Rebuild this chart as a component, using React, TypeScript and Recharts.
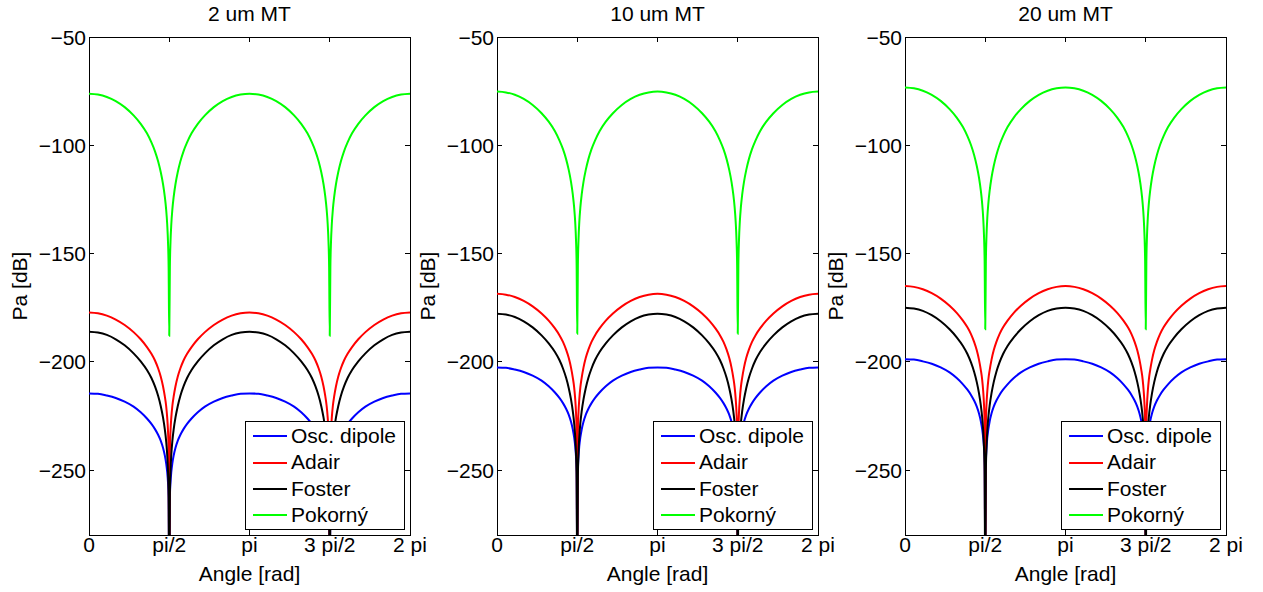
import React from 'react';
import { LineChart, Line, XAxis, YAxis, ReferenceArea, Legend } from 'recharts';

// ---- data (angle in degrees, values in dB) ----
const ANGLES = [0, 10, 20, 30, 40, 50, 58, 65, 70, 74, 77.5, 80.5, 83, 85, 86.5, 87.7, 88.6, 89.3, 90,
  90.7, 91.4, 92.3, 93.5, 95, 97, 99.5, 102.5, 106, 110, 115, 122, 130, 140, 150, 160, 170, 180,
  190, 200, 210, 220, 230, 238, 245, 250, 254, 257.5, 260.5, 263, 265, 266.5, 267.7, 268.6, 269.3, 270,
  270.7, 271.4, 272.3, 273.5, 275, 277, 279.5, 282.5, 286, 290, 295, 302, 310, 320, 330, 340, 350, 360];

const X_TICKS = [0, 90, 180, 270, 360];
const X_TICK_LABELS = ['0', 'pi/2', 'pi', '3 pi/2', '2 pi'];
const Y_TICKS = [-250, -200, -150, -100, -50];
const PANEL_TITLES = ['2 um MT', '10 um MT', '20 um MT'];

// Panel 1 (2 um MT)
const OSC_2UM = [-214.6, -214.8, -215.6, -216.7, -218.4, -220.7, -223.3, -226.2, -228.7, -231.1, -233.7, -236.5, -239.7, -243.2, -246.8, -250.9, -255.7, -262.4, -305,
  -262.4, -255.7, -250.9, -246.8, -243.2, -239.7, -236.5, -233.7, -231.1, -228.7, -226.2, -223.3, -220.7, -218.4, -216.7, -215.6, -214.8, -214.6,
  -214.8, -215.6, -216.7, -218.4, -220.7, -223.3, -226.2, -228.7, -231.1, -233.7, -236.5, -239.7, -243.2, -246.8, -250.9, -255.7, -262.4, -305,
  -262.4, -255.7, -250.9, -246.8, -243.2, -239.7, -236.5, -233.7, -231.1, -228.7, -226.2, -223.3, -220.7, -218.4, -216.7, -215.6, -214.8, -214.6];
const ADAIR_2UM = [-177.2, -177.6, -178.7, -180.5, -183.0, -186.3, -189.6, -193.2, -196.3, -199.4, -203.0, -206.9, -211.3, -215.9, -220.3, -225.8, -232.0, -241.3, -310,
  -241.3, -232.0, -225.8, -220.3, -215.9, -211.3, -206.9, -203.0, -199.4, -196.3, -193.2, -189.6, -186.3, -183.0, -180.5, -178.7, -177.6, -177.2,
  -177.6, -178.7, -180.5, -183.0, -186.3, -189.6, -193.2, -196.3, -199.4, -203.0, -206.9, -211.3, -215.9, -220.3, -225.8, -232.0, -241.3, -310,
  -241.3, -232.0, -225.8, -220.3, -215.9, -211.3, -206.9, -203.0, -199.4, -196.3, -193.2, -189.6, -186.3, -183.0, -180.5, -178.7, -177.6, -177.2];
const FOSTER_2UM = [-186.1, -186.5, -187.6, -189.6, -192.4, -196.1, -199.8, -203.8, -207.5, -211.4, -215.7, -220.5, -225.7, -231.1, -236.5, -242.9, -250.6, -261.7, -316,
  -261.7, -250.6, -242.9, -236.5, -231.1, -225.7, -220.5, -215.7, -211.4, -207.5, -203.8, -199.8, -196.1, -192.4, -189.6, -187.6, -186.5, -186.1,
  -186.5, -187.6, -189.6, -192.4, -196.1, -199.8, -203.8, -207.5, -211.4, -215.7, -220.5, -225.7, -231.1, -236.5, -242.9, -250.6, -261.7, -316,
  -261.7, -250.6, -242.9, -236.5, -231.1, -225.7, -220.5, -215.7, -211.4, -207.5, -203.8, -199.8, -196.1, -192.4, -189.6, -187.6, -186.5, -186.1];
const POKORNY_2UM = [-76.2, -76.6, -77.7, -79.6, -82.4, -86.2, -90.1, -94.5, -98.7, -102.8, -107.4, -112.5, -117.9, -123.7, -129.6, -136.5, -144.7, -156.5, -188,
  -156.5, -144.7, -136.5, -129.6, -123.7, -117.9, -112.5, -107.4, -102.8, -98.7, -94.5, -90.1, -86.2, -82.4, -79.6, -77.7, -76.6, -76.2,
  -76.6, -77.7, -79.6, -82.4, -86.2, -90.1, -94.5, -98.7, -102.8, -107.4, -112.5, -117.9, -123.7, -129.6, -136.5, -144.7, -156.5, -188,
  -156.5, -144.7, -136.5, -129.6, -123.7, -117.9, -112.5, -107.4, -102.8, -98.7, -94.5, -90.1, -86.2, -82.4, -79.6, -77.7, -76.6, -76.2];

// Panel 2 (10 um MT)
const OSC_10UM = [-202.6, -202.8, -203.6, -204.7, -206.4, -208.7, -211.3, -214.2, -216.7, -219.1, -221.7, -224.5, -227.7, -231.2, -234.8, -238.9, -243.7, -250.4, -295,
  -250.4, -243.7, -238.9, -234.8, -231.2, -227.7, -224.5, -221.7, -219.1, -216.7, -214.2, -211.3, -208.7, -206.4, -204.7, -203.6, -202.8, -202.6,
  -202.8, -203.6, -204.7, -206.4, -208.7, -211.3, -214.2, -216.7, -219.1, -221.7, -224.5, -227.7, -231.2, -234.8, -238.9, -243.7, -250.4, -295,
  -250.4, -243.7, -238.9, -234.8, -231.2, -227.7, -224.5, -221.7, -219.1, -216.7, -214.2, -211.3, -208.7, -206.4, -204.7, -203.6, -202.8, -202.6];
const ADAIR_10UM = [-168.6, -169.0, -170.1, -171.9, -174.4, -177.7, -181.0, -184.6, -187.7, -190.8, -194.4, -198.3, -202.7, -207.3, -211.7, -217.2, -223.4, -232.7, -300,
  -232.7, -223.4, -217.2, -211.7, -207.3, -202.7, -198.3, -194.4, -190.8, -187.7, -184.6, -181.0, -177.7, -174.4, -171.9, -170.1, -169.0, -168.6,
  -169.0, -170.1, -171.9, -174.4, -177.7, -181.0, -184.6, -187.7, -190.8, -194.4, -198.3, -202.7, -207.3, -211.7, -217.2, -223.4, -232.7, -300,
  -232.7, -223.4, -217.2, -211.7, -207.3, -202.7, -198.3, -194.4, -190.8, -187.7, -184.6, -181.0, -177.7, -174.4, -171.9, -170.1, -169.0, -168.6];
const FOSTER_10UM = [-177.8, -178.2, -179.3, -181.3, -184.1, -187.8, -191.5, -195.5, -199.2, -203.1, -207.4, -212.2, -217.4, -222.8, -228.2, -234.6, -242.3, -253.4, -310,
  -253.4, -242.3, -234.6, -228.2, -222.8, -217.4, -212.2, -207.4, -203.1, -199.2, -195.5, -191.5, -187.8, -184.1, -181.3, -179.3, -178.2, -177.8,
  -178.2, -179.3, -181.3, -184.1, -187.8, -191.5, -195.5, -199.2, -203.1, -207.4, -212.2, -217.4, -222.8, -228.2, -234.6, -242.3, -253.4, -310,
  -253.4, -242.3, -234.6, -228.2, -222.8, -217.4, -212.2, -207.4, -203.1, -199.2, -195.5, -191.5, -187.8, -184.1, -181.3, -179.3, -178.2, -177.8];
const POKORNY_10UM = [-75.2, -75.6, -76.7, -78.6, -81.4, -85.2, -89.1, -93.5, -97.7, -101.8, -106.4, -111.5, -116.9, -122.7, -128.6, -135.5, -143.7, -155.5, -187,
  -155.5, -143.7, -135.5, -128.6, -122.7, -116.9, -111.5, -106.4, -101.8, -97.7, -93.5, -89.1, -85.2, -81.4, -78.6, -76.7, -75.6, -75.2,
  -75.6, -76.7, -78.6, -81.4, -85.2, -89.1, -93.5, -97.7, -101.8, -106.4, -111.5, -116.9, -122.7, -128.6, -135.5, -143.7, -155.5, -187,
  -155.5, -143.7, -135.5, -128.6, -122.7, -116.9, -111.5, -106.4, -101.8, -97.7, -93.5, -89.1, -85.2, -81.4, -78.6, -76.7, -75.6, -75.2];

// Panel 3 (20 um MT)
const OSC_20UM = [-198.8, -199.0, -199.8, -200.9, -202.6, -204.9, -207.5, -210.4, -212.9, -215.3, -217.9, -220.7, -223.9, -227.4, -231.0, -235.1, -239.9, -246.6, -290,
  -246.6, -239.9, -235.1, -231.0, -227.4, -223.9, -220.7, -217.9, -215.3, -212.9, -210.4, -207.5, -204.9, -202.6, -200.9, -199.8, -199.0, -198.8,
  -199.0, -199.8, -200.9, -202.6, -204.9, -207.5, -210.4, -212.9, -215.3, -217.9, -220.7, -223.9, -227.4, -231.0, -235.1, -239.9, -246.6, -290,
  -246.6, -239.9, -235.1, -231.0, -227.4, -223.9, -220.7, -217.9, -215.3, -212.9, -210.4, -207.5, -204.9, -202.6, -200.9, -199.8, -199.0, -198.8];
const ADAIR_20UM = [-165.0, -165.4, -166.5, -168.3, -170.8, -174.1, -177.4, -181.0, -184.1, -187.2, -190.8, -194.7, -199.1, -203.7, -208.1, -213.6, -219.8, -229.1, -300,
  -229.1, -219.8, -213.6, -208.1, -203.7, -199.1, -194.7, -190.8, -187.2, -184.1, -181.0, -177.4, -174.1, -170.8, -168.3, -166.5, -165.4, -165.0,
  -165.4, -166.5, -168.3, -170.8, -174.1, -177.4, -181.0, -184.1, -187.2, -190.8, -194.7, -199.1, -203.7, -208.1, -213.6, -219.8, -229.1, -300,
  -229.1, -219.8, -213.6, -208.1, -203.7, -199.1, -194.7, -190.8, -187.2, -184.1, -181.0, -177.4, -174.1, -170.8, -168.3, -166.5, -165.4, -165.0];
const FOSTER_20UM = [-175.0, -175.4, -176.5, -178.5, -181.3, -185.0, -188.7, -192.7, -196.4, -200.3, -204.6, -209.4, -214.6, -220.0, -225.4, -231.8, -239.5, -250.6, -310,
  -250.6, -239.5, -231.8, -225.4, -220.0, -214.6, -209.4, -204.6, -200.3, -196.4, -192.7, -188.7, -185.0, -181.3, -178.5, -176.5, -175.4, -175.0,
  -175.4, -176.5, -178.5, -181.3, -185.0, -188.7, -192.7, -196.4, -200.3, -204.6, -209.4, -214.6, -220.0, -225.4, -231.8, -239.5, -250.6, -310,
  -250.6, -239.5, -231.8, -225.4, -220.0, -214.6, -209.4, -204.6, -200.3, -196.4, -192.7, -188.7, -185.0, -181.3, -178.5, -176.5, -175.4, -175.0];
const POKORNY_20UM = [-73.3, -73.7, -74.8, -76.7, -79.5, -83.3, -87.2, -91.6, -95.8, -99.9, -104.5, -109.6, -115.0, -120.8, -126.7, -133.6, -141.8, -153.6, -185,
  -153.6, -141.8, -133.6, -126.7, -120.8, -115.0, -109.6, -104.5, -99.9, -95.8, -91.6, -87.2, -83.3, -79.5, -76.7, -74.8, -73.7, -73.3,
  -73.7, -74.8, -76.7, -79.5, -83.3, -87.2, -91.6, -95.8, -99.9, -104.5, -109.6, -115.0, -120.8, -126.7, -133.6, -141.8, -153.6, -185,
  -153.6, -141.8, -133.6, -126.7, -120.8, -115.0, -109.6, -104.5, -99.9, -95.8, -91.6, -87.2, -83.3, -79.5, -76.7, -74.8, -73.7, -73.3];

const SERIES = [
  { key: 'osc', name: 'Osc. dipole', color: '#0000ff' },
  { key: 'adair', name: 'Adair', color: '#ff0000' },
  { key: 'foster', name: 'Foster', color: '#000000' },
  { key: 'pokorny', name: 'Pokorný', color: '#00ff00' },
];

const PANEL_VALUES = [
  { osc: OSC_2UM, adair: ADAIR_2UM, foster: FOSTER_2UM, pokorny: POKORNY_2UM },
  { osc: OSC_10UM, adair: ADAIR_10UM, foster: FOSTER_10UM, pokorny: POKORNY_10UM },
  { osc: OSC_20UM, adair: ADAIR_20UM, foster: FOSTER_20UM, pokorny: POKORNY_20UM },
];

// ---- layout ----
const FONT = '"Liberation Sans", Arial, Helvetica, sans-serif';
const FS = 21;
const PLOT_LEFTS = [89, 497, 905];
const AXIS_W = 89;
const PLOT_W = 321;
const RIGHT_M = 24;
const CHART_H = 592;
const PLOT_TOP = 37;
const X_AXIS_H = 57;

const minus = (v: number) => String(v).replace('-', '\u2212');

function XTick(props: any) {
  const { x, y, payload } = props;
  const idx = X_TICKS.indexOf(payload.value);
  return (
    <g>
      <line x1={x} x2={x} y1={y} y2={y - 5} stroke="#000" shapeRendering="crispEdges" />
      <line x1={x} x2={x} y1={PLOT_TOP} y2={PLOT_TOP + 5} stroke="#000" shapeRendering="crispEdges" />
      <text x={x} y={y + 17} textAnchor="middle" fontSize={FS} fontFamily={FONT} fill="#000">
        {X_TICK_LABELS[idx]}
      </text>
    </g>
  );
}

function YTick(props: any) {
  const { x, y, payload } = props;
  return (
    <g>
      <line x1={x} x2={x + 5} y1={y} y2={y} stroke="#000" shapeRendering="crispEdges" />
      <line x1={x + PLOT_W} x2={x + PLOT_W - 5} y1={y} y2={y} stroke="#000" shapeRendering="crispEdges" />
      <text x={x - 3} y={y + 7.5} textAnchor="end" fontSize={FS} fontFamily={FONT} fill="#000">
        {minus(payload.value)}
      </text>
    </g>
  );
}

function LegendBox(props: any) {
  const items = [...(props.payload || [])].sort(
    (a: any, b: any) =>
      SERIES.findIndex((s) => s.name === a.value) - SERIES.findIndex((s) => s.name === b.value)
  );
  return (
    <div
      style={{
        boxSizing: 'border-box',
        width: 160,
        height: 109,
        border: '1px solid #000',
        background: '#fff',
        paddingTop: 1,
        fontFamily: FONT,
      }}
    >
      {items.map((entry: any) => (
        <div key={entry.value} style={{ display: 'flex', alignItems: 'center', height: 26.4, paddingLeft: 7 }}>
          <span style={{ display: 'inline-block', width: 34, height: 2, background: entry.color, marginRight: 4 }} />
          <span style={{ fontSize: FS, lineHeight: '26.4px', color: '#000', whiteSpace: 'nowrap' }}>{entry.value}</span>
        </div>
      ))}
    </div>
  );
}

function Panel({ index }: { index: number }) {
  const vals = PANEL_VALUES[index];
  const data = ANGLES.map((a, i) => ({
    angle: a,
    osc: vals.osc[i],
    adair: vals.adair[i],
    foster: vals.foster[i],
    pokorny: vals.pokorny[i],
  }));
  const title = PANEL_TITLES[index];
  const left = PLOT_LEFTS[index] - AXIS_W;
  return (
    <div style={{ position: 'absolute', left, top: 0 }}>
      <LineChart
        width={AXIS_W + PLOT_W + RIGHT_M}
        height={CHART_H}
        data={data}
        margin={{ top: PLOT_TOP, right: RIGHT_M, bottom: 0, left: 0 }}
      >
        <XAxis
          dataKey="angle"
          type="number"
          domain={[0, 360]}
          ticks={X_TICKS}
          interval={0}
          height={X_AXIS_H}
          axisLine={false}
          tickLine={false}
          tickSize={0}
          tickMargin={0}
          tick={<XTick />}
          label={{
            value: 'Angle [rad]',
            content: (p: any) => {
              const vb = p.viewBox;
              return (
                <text x={vb.x + vb.width / 2} y={581} textAnchor="middle" fontSize={FS} fontFamily={FONT} fill="#000">
                  Angle [rad]
                </text>
              );
            },
          }}
        />
        <YAxis
          type="number"
          domain={[-280, -50]}
          ticks={Y_TICKS}
          interval={0}
          allowDataOverflow
          width={AXIS_W}
          axisLine={false}
          tickLine={false}
          tickSize={0}
          tickMargin={0}
          tick={<YTick />}
          label={{
            value: 'Pa [dB]',
            content: (p: any) => {
              const vb = p.viewBox;
              const cx = vb.x + 27;
              const cy = vb.y + vb.height / 2;
              return (
                <text
                  x={cx}
                  y={cy}
                  transform={`rotate(-90, ${cx}, ${cy})`}
                  textAnchor="middle"
                  fontSize={FS}
                  fontFamily={FONT}
                  fill="#000"
                >
                  Pa [dB]
                </text>
              );
            },
          }}
        />
        <ReferenceArea
          x1={0}
          x2={360}
          y1={-280}
          y2={-50}
          fill="none"
          fillOpacity={0}
          stroke="#000"
          strokeWidth={1}
          shapeRendering="crispEdges"
          label={{
            value: title,
            content: (p: any) => {
              const vb = p.viewBox;
              return (
                <text x={vb.x + vb.width / 2} y={21} textAnchor="middle" fontSize={FS} fontFamily={FONT} fill="#000">
                  {title}
                </text>
              );
            },
          }}
        />
        {SERIES.map((s) => (
          <Line
            key={s.key}
            type="monotone"
            dataKey={s.key}
            name={s.name}
            stroke={s.color}
            strokeWidth={2}
            dot={false}
            activeDot={false}
            isAnimationActive={false}
          />
        ))}
        <Legend
          layout="vertical"
          align="center"
          verticalAlign="middle"
          content={<LegendBox />}
          wrapperStyle={{ left: AXIS_W + PLOT_W - 165, top: 421, width: 160, height: 109 }}
        />
      </LineChart>
    </div>
  );
}

export default function App() {
  return (
    <div style={{ position: 'absolute', left: 0, top: 0, width: 1263, height: 592, background: '#fff', fontFamily: FONT }}>
      {PANEL_TITLES.map((_, i) => (
        <Panel key={i} index={i} />
      ))}
    </div>
  );
}
